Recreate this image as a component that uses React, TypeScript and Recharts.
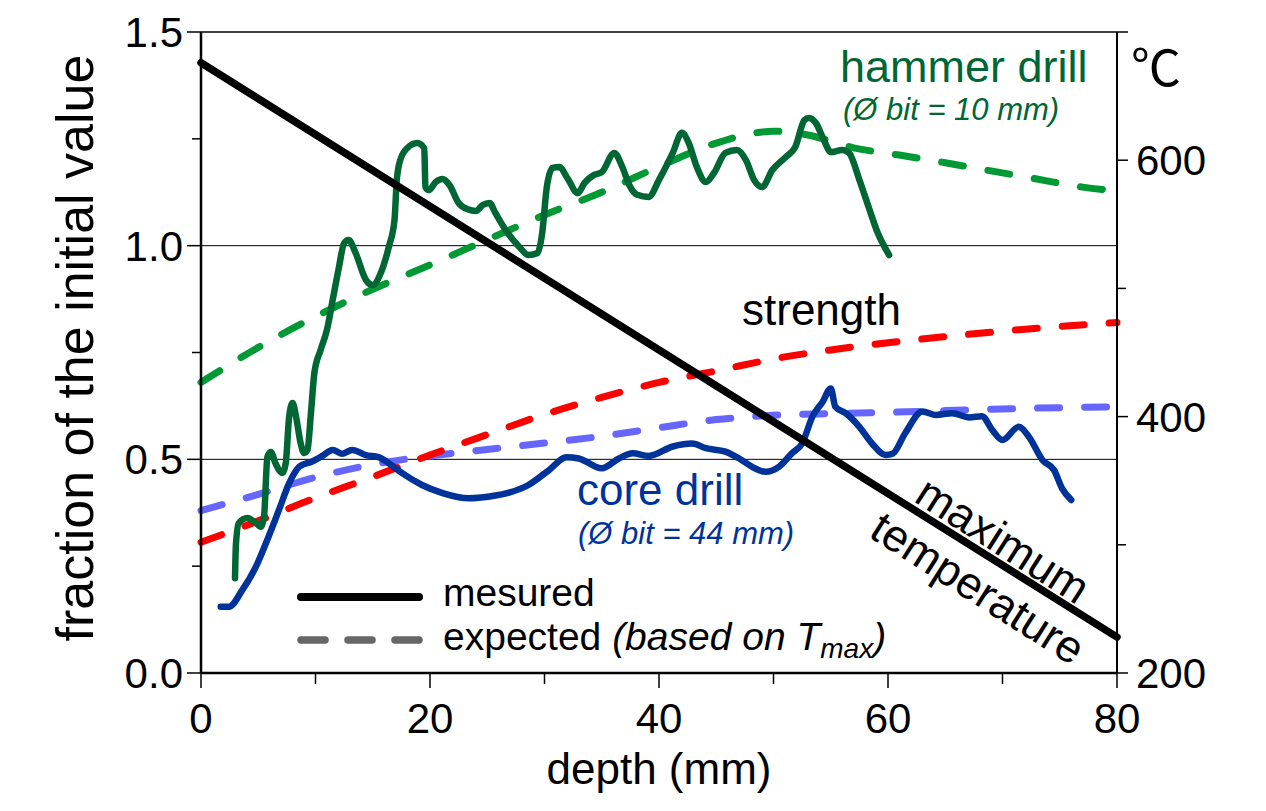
import React from 'react'
import { ComposedChart, Line, XAxis, YAxis, ReferenceLine } from 'recharts'

// axis ticks
const depthTicks = [0, 10, 20, 30, 40, 50, 60, 70, 80]
const fractionTicks = [0, 0.25, 0.5, 0.75, 1, 1.25, 1.5]
const tempTicks = [200, 300, 400, 500, 600, 700]

// measured maximum temperature (°C) vs depth (mm)
const maxTemperature: [number, number][] = [
  [0, 676],
  [80, 228],
]

// measured strength, hammer drill (fraction of initial value)
const hammerMeasured: [number, number][] = [
  [2.97, 0.222], [3.05, 0.3], [3.3, 0.351], [4.05, 0.363], [4.8, 0.351], [5.2, 0.342],
  [5.5, 0.365], [5.8, 0.506], [6.1, 0.517], [6.5, 0.491], [7.1, 0.468], [7.4, 0.491],
  [7.7, 0.6], [8.0, 0.632], [8.3, 0.6], [8.7, 0.538], [9.0, 0.515], [9.3, 0.522],
  [9.6, 0.608], [9.9, 0.702], [10.45, 0.756], [11.0, 0.803], [11.5, 0.873], [12.05, 0.95],
  [12.5, 1.006], [12.9, 1.013], [13.5, 0.983], [14.4, 0.92], [15.0, 0.908], [15.7, 0.936],
  [16.4, 0.997], [16.9, 1.06], [17.1, 1.154], [17.4, 1.2], [18.0, 1.228], [18.9, 1.24],
  [19.5, 1.228], [19.6, 1.137], [19.9, 1.13], [20.5, 1.149], [21.1, 1.156], [21.7, 1.142],
  [22.5, 1.1], [23.3, 1.085], [24.0, 1.081], [24.6, 1.095], [25.2, 1.1], [25.7, 1.077],
  [26.6, 1.037], [27.8, 0.997], [28.6, 0.978], [29.4, 0.983], [29.8, 1.03], [30.2, 1.137],
  [30.7, 1.182], [31.3, 1.184], [32.0, 1.158], [32.9, 1.123], [33.5, 1.147], [34.3, 1.165],
  [35.0, 1.172], [36.1, 1.217], [36.8, 1.184], [37.4, 1.142], [38.1, 1.119], [39.1, 1.114],
  [40.0, 1.154], [41.2, 1.217], [42.0, 1.264], [42.6, 1.24], [43.3, 1.184], [44.1, 1.149],
  [44.8, 1.17], [45.8, 1.217], [46.8, 1.224], [47.6, 1.2], [48.3, 1.154], [49.0, 1.137],
  [49.9, 1.177], [51.1, 1.208], [51.9, 1.231], [52.7, 1.294], [53.1, 1.299], [53.7, 1.287],
  [54.4, 1.247], [55.0, 1.219], [56.0, 1.224], [56.6, 1.217], [57.5, 1.154], [58.3, 1.091],
  [59.1, 1.03], [60.1, 0.978],
]

// measured strength, core drill
const coreMeasured: [number, number][] = [
  [1.72, 0.155], [2.45, 0.155], [3.6, 0.194], [4.8, 0.249], [5.9, 0.319], [6.8, 0.381],
  [7.7, 0.444], [8.6, 0.483], [9.7, 0.495], [10.6, 0.508], [11.5, 0.522], [12.3, 0.513],
  [13.2, 0.522], [14.4, 0.51], [15.5, 0.505], [16.4, 0.491], [17.6, 0.467], [19.3, 0.44],
  [21.1, 0.421], [23.4, 0.409], [25.2, 0.413], [26.9, 0.422], [28.6, 0.44], [30.4, 0.475],
  [31.9, 0.505], [33.0, 0.502], [35.0, 0.479], [36.5, 0.502], [37.7, 0.514], [39.1, 0.508],
  [41.2, 0.53], [42.9, 0.537], [44.1, 0.526], [45.8, 0.518], [47.0, 0.502], [48.1, 0.483],
  [49.3, 0.471], [50.5, 0.483], [51.6, 0.514], [52.5, 0.537], [53.4, 0.6], [54.3, 0.635],
  [55.0, 0.666], [55.4, 0.623], [56.3, 0.608], [57.5, 0.576], [58.6, 0.537], [59.8, 0.51],
  [60.4, 0.513], [61.5, 0.561], [63.0, 0.612], [64.2, 0.604], [65.6, 0.608], [67.1, 0.598],
  [68.2, 0.601], [69.1, 0.569], [70.0, 0.545], [71.4, 0.576], [72.3, 0.553], [73.5, 0.498],
  [74.5, 0.475], [75.2, 0.432], [76.0, 0.405],
]

// expected values (based on Tmax)
const hammerExpected: [number, number][] = [
  [0, 0.68], [5, 0.762], [10, 0.834], [15, 0.898], [20, 0.955], [25, 1.014], [30, 1.072],
  [35, 1.125], [40, 1.185], [45, 1.24], [48, 1.262], [50, 1.268], [53, 1.259], [57, 1.229],
  [61, 1.212], [65, 1.194], [69, 1.175], [73, 1.156], [77, 1.137], [80, 1.128],
]
const strengthExpected: [number, number][] = [
  [0, 0.306], [5, 0.356], [10, 0.41], [15, 0.459], [20, 0.51], [25, 0.558], [30, 0.605],
  [35, 0.645], [40, 0.68], [45, 0.707], [50, 0.735], [55, 0.756], [60, 0.773], [65, 0.787],
  [70, 0.8], [75, 0.811], [80, 0.82],
]
const coreExpected: [number, number][] = [
  [0, 0.38], [5, 0.418], [10, 0.458], [15, 0.488], [20, 0.508], [25, 0.523], [30, 0.538],
  [35, 0.554], [40, 0.574], [45, 0.593], [50, 0.603], [55, 0.607], [60, 0.61], [65, 0.614],
  [70, 0.618], [75, 0.621], [80, 0.623],
]

const toPoints = (rows: [number, number][]) => rows.map(([d, v]) => ({ d, v }))

const FONT = '"Liberation Sans", Arial, Helvetica, sans-serif'
const DASH = '22 25'

function LeftTick({ x, y, payload }: any) {
  const v = payload.value
  const major = Math.abs(v * 2 - Math.round(v * 2)) < 1e-6
  return (
    <g>
      <line x1={x} y1={y} x2={x - (major ? 14 : 9)} y2={y} stroke="#000" strokeWidth={1.5} />
      {major && (
        <text x={x - 18} y={y + 15} textAnchor="end" fontSize={42} fontFamily={FONT} fill="#000">
          {v.toFixed(1)}
        </text>
      )}
    </g>
  )
}

function RightTick({ x, y, payload }: any) {
  const v = payload.value
  const major = v % 200 === 0
  return (
    <g>
      <line x1={x} y1={y} x2={x + (major || v === 700 ? 11 : 9)} y2={y} stroke="#000" strokeWidth={1.5} />
      {major && (
        <text x={x + 19} y={y + 15} textAnchor="start" fontSize={42} fontFamily={FONT} fill="#000">
          {v}
        </text>
      )}
    </g>
  )
}

function BottomTick({ x, y, payload }: any) {
  const v = payload.value
  const major = v % 20 === 0
  return (
    <g>
      <line x1={x} y1={y} x2={x} y2={y + (major ? 15 : 11)} stroke="#000" strokeWidth={1.5} />
      {major && (
        <text x={x} y={y + 60} textAnchor="middle" fontSize={42} fontFamily={FONT} fill="#000">
          {v}
        </text>
      )}
    </g>
  )
}

export default function App() {
  return (
    <div style={{ position: 'absolute', left: 0, top: 0, width: 1266, height: 811, background: '#fff' }}>
      <ComposedChart width={1266} height={811} margin={{ top: 32, right: 9, bottom: 0, left: 0 }}>
        <XAxis
          xAxisId={0}
          dataKey="d"
          type="number"
          domain={[0, 80]}
          ticks={depthTicks}
          interval={0}
          height={138}
          tickSize={0}
          tickMargin={0}
          tickLine={false}
          tick={<BottomTick />}
          axisLine={{ stroke: '#000', strokeWidth: 2.5 }}
        />
        <YAxis
          yAxisId="left"
          orientation="left"
          type="number"
          domain={[0, 1.5]}
          ticks={fractionTicks}
          interval={0}
          width={201}
          tickSize={0}
          tickMargin={0}
          tickLine={false}
          tick={<LeftTick />}
          axisLine={{ stroke: '#000', strokeWidth: 2.5 }}
        />
        <YAxis
          yAxisId="right"
          orientation="right"
          type="number"
          domain={[200, 700]}
          ticks={tempTicks}
          interval={0}
          width={140}
          tickSize={0}
          tickMargin={0}
          tickLine={false}
          tick={<RightTick />}
          axisLine={{ stroke: '#000', strokeWidth: 2 }}
        />
        <ReferenceLine yAxisId="left" y={0.5} stroke="#000" strokeWidth={1} />
        <ReferenceLine yAxisId="left" y={1} stroke="#000" strokeWidth={1} />
        <ReferenceLine yAxisId="left" y={1.5} stroke="#000" strokeWidth={1.5} />

        <Line data={toPoints(coreExpected)} dataKey="v" yAxisId="left" type="monotone" stroke="#6666ff"
          strokeWidth={7} strokeDasharray={DASH} strokeLinecap="round" dot={false} activeDot={false} isAnimationActive={false} />
        <Line data={toPoints(strengthExpected)} dataKey="v" yAxisId="left" type="monotone" stroke="#ff0000"
          strokeWidth={7} strokeDasharray={DASH} strokeLinecap="round" dot={false} activeDot={false} isAnimationActive={false} />
        <Line data={toPoints(hammerExpected)} dataKey="v" yAxisId="left" type="monotone" stroke="#009933"
          strokeWidth={7} strokeDasharray={DASH} strokeLinecap="round" dot={false} activeDot={false} isAnimationActive={false} />
        <Line data={toPoints(coreMeasured)} dataKey="v" yAxisId="left" type="monotone" stroke="#003399"
          strokeWidth={6.5} strokeLinecap="round" strokeLinejoin="round" dot={false} activeDot={false} isAnimationActive={false} />
        <Line data={toPoints(hammerMeasured)} dataKey="v" yAxisId="left" type="monotone" stroke="#006633"
          strokeWidth={6.5} strokeLinecap="round" strokeLinejoin="round" dot={false} activeDot={false} isAnimationActive={false} />
        <Line data={toPoints(maxTemperature)} dataKey="v" yAxisId="right" type="linear" stroke="#000"
          strokeWidth={7.5} strokeLinecap="round" dot={false} activeDot={false} isAnimationActive={false} />
      </ComposedChart>

      {/* titles, annotations and legend */}
      <svg width={1266} height={811} style={{ position: 'absolute', left: 0, top: 0, pointerEvents: 'none' }}
        fontFamily={FONT}>
        <text transform="translate(93,348) rotate(-90)" textAnchor="middle" fontSize={52} fill="#000">
          fraction of the initial value
        </text>
        <text x={659} y={784} textAnchor="middle" fontSize={44} fill="#000">depth (mm)</text>
        <text x={1131} y={86} fontSize={50} fill="#000" fontFamily='"Noto Sans CJK JP", "DejaVu Sans", sans-serif'>℃</text>

        <text x={840} y={82} fontSize={45} fill="#006633">hammer drill</text>
        <text x={843} y={120} fontSize={31} fontStyle="italic" fill="#006633">(Ø bit = 10 mm)</text>
        <text x={742} y={325} fontSize={44} fill="#000">strength</text>
        <text x={577} y={505} fontSize={44} fill="#003399">core drill</text>
        <text x={578} y={544} fontSize={31} fontStyle="italic" fill="#003399">(Ø bit = 44 mm)</text>
        <text transform="translate(1003,540) rotate(32.5)" textAnchor="middle" dominantBaseline="central"
          fontSize={45} fill="#000">maximum</text>
        <text transform="translate(978,588) rotate(32.5)" textAnchor="middle" dominantBaseline="central"
          fontSize={45} fill="#000">temperature</text>

        <line x1={301} y1={597} x2={419} y2={597} stroke="#000" strokeWidth={8} strokeLinecap="round" />
        <line x1={301} y1={640} x2={419} y2={640} stroke="#666666" strokeWidth={7.5} strokeLinecap="round"
          strokeDasharray="24 23" />
        <text x={443} y={606} fontSize={39} fill="#000">mesured</text>
        <text x={443} y={650} fontSize={39} fill="#000">
          expected <tspan fontStyle="italic">(based on T</tspan>
          <tspan fontStyle="italic" fontSize={28} dy={8}>max</tspan>
          <tspan fontStyle="italic" dy={-8}>)</tspan>
        </text>
      </svg>
    </div>
  )
}
